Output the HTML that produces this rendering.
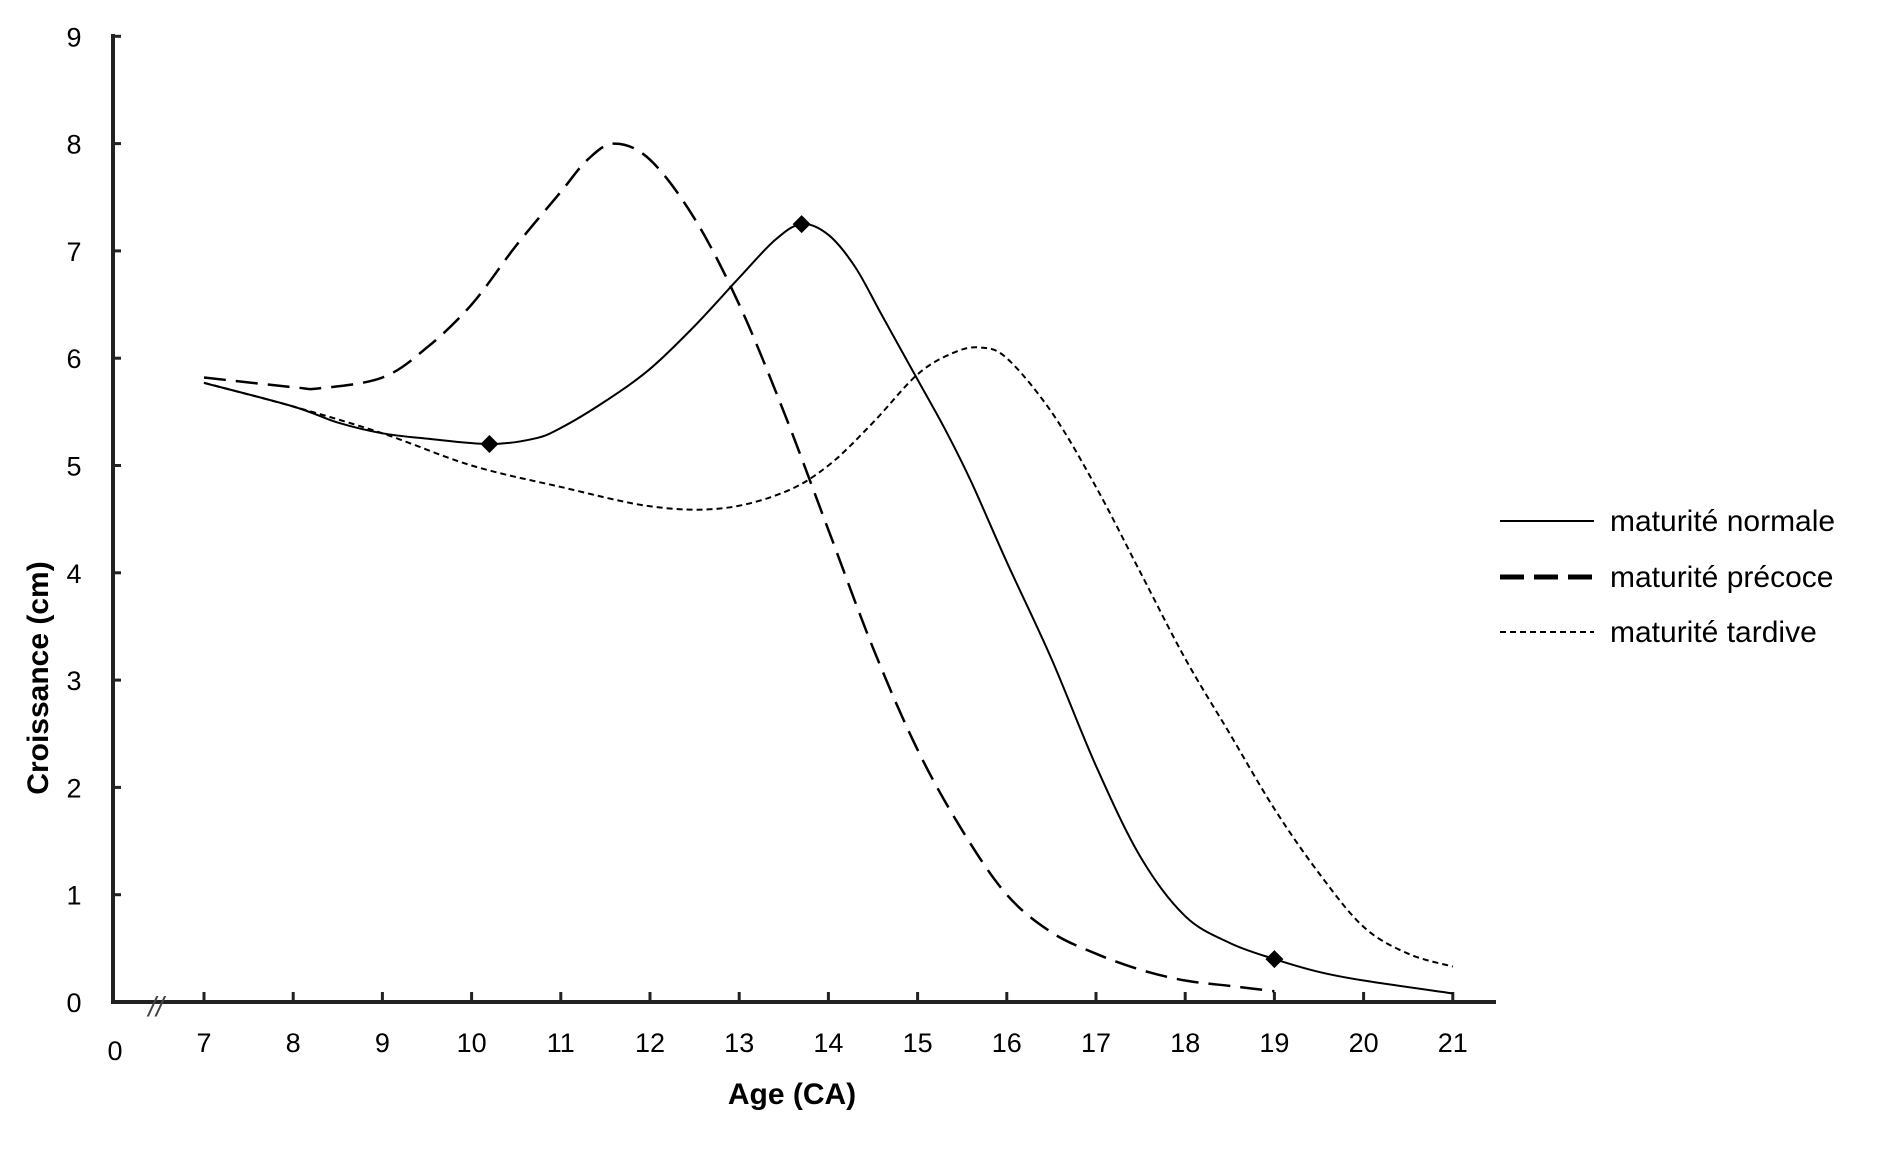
<!DOCTYPE html>
<html><head><meta charset="utf-8"><style>
html,body{margin:0;padding:0;background:#fff;}
svg{display:block;font-family:"Liberation Sans",Arial,sans-serif;}
</style></head><body>
<svg id="c" width="1882" height="1154" viewBox="0 0 1882 1154" xmlns="http://www.w3.org/2000/svg">
<rect width="1882" height="1154" fill="#fff"/>
<g id="axes" stroke="#222" stroke-width="4" fill="none">
<line x1="113" y1="34" x2="113" y2="1004"/>
<line x1="111" y1="1002" x2="1496" y2="1002"/>
</g>
<g id="ticks" stroke="#222" stroke-width="3"></g>
<g id="labels" font-size="27" fill="#000" text-anchor="middle"></g>
<text x="156" y="1016" font-size="28" font-style="italic" fill="#444" text-anchor="middle">//</text>
<text x="115" y="1060" font-size="27" text-anchor="middle">0</text>
<text x="792" y="1104" font-size="30" font-weight="bold" text-anchor="middle">Age (CA)</text>
<text transform="translate(48,678) rotate(-90)" font-size="30" font-weight="bold" text-anchor="middle">Croissance (cm)</text>
<g id="series" fill="none" stroke="#000"></g>
<g id="marks" fill="#000"></g>
<g font-size="30">
<line x1="1500" y1="521" x2="1594" y2="521" stroke="#000" stroke-width="2"/>
<text x="1610" y="531">maturité normale</text>
<line x1="1500" y1="577" x2="1594" y2="577" stroke="#000" stroke-width="5" stroke-dasharray="24,10"/>
<text x="1610" y="587">maturité précoce</text>
<line x1="1500" y1="632" x2="1594" y2="632" stroke="#000" stroke-width="2" stroke-dasharray="6,4"/>
<text x="1610" y="642">maturité tardive</text>
</g>
</svg>
<script>
var NS="http://www.w3.org/2000/svg";
function X(a){return 204+(a-7)*89.2;}
function Y(v){return 1002-v*107.3;}
function el(p,t,at,txt){var e=document.createElementNS(NS,t);for(var k in at)e.setAttribute(k,at[k]);if(txt!==undefined)e.textContent=txt;document.getElementById(p).appendChild(e);}
for(var v=1;v<=9;v++){el("ticks","line",{x1:113,y1:Y(v),x2:121,y2:Y(v)});}
for(var v=0;v<=9;v++){el("labels","text",{x:74,y:Y(v)+10},String(v));}
for(var a=7;a<=21;a++){el("ticks","line",{x1:X(a),y1:992,x2:X(a),y2:1002});el("labels","text",{x:X(a),y:1052},String(a));}
function path(pts){var P=pts.map(function(p){return [X(p[0]),Y(p[1])];});var d="M"+P[0][0]+","+P[0][1];
for(var i=0;i<P.length-1;i++){var p0=P[Math.max(0,i-1)],p1=P[i],p2=P[i+1],p3=P[Math.min(P.length-1,i+2)];
d+=" C"+(p1[0]+(p2[0]-p0[0])/6)+","+(p1[1]+(p2[1]-p0[1])/6)+" "+(p2[0]-(p3[0]-p1[0])/6)+","+(p2[1]-(p3[1]-p1[1])/6)+" "+p2[0]+","+p2[1];}return d;}
var normal=[[7,5.77],[8,5.55],[8.5,5.4],[9,5.3],[9.5,5.25],[10.2,5.2],[10.7,5.25],[11,5.35],[11.5,5.6],[12,5.9],[12.5,6.3],[13,6.75],[13.4,7.1],[13.7,7.25],[14,7.15],[14.3,6.85],[14.6,6.4],[15,5.8],[15.3,5.35],[15.6,4.85],[16,4.1],[16.5,3.2],[17,2.2],[17.5,1.35],[18,0.8],[18.5,0.55],[19,0.4],[19.5,0.28],[20,0.2],[21,0.08]];
var prec=[[7,5.82],[8,5.73],[8.3,5.72],[9,5.82],[9.5,6.1],[10,6.5],[10.5,7.05],[11,7.55],[11.3,7.85],[11.6,8.0],[12,7.85],[12.5,7.3],[13,6.5],[13.5,5.5],[14,4.4],[14.5,3.3],[15,2.35],[15.5,1.6],[16,1.0],[16.5,0.65],[17,0.45],[17.5,0.3],[18,0.2],[18.5,0.15],[19,0.1]];
var tard=[[7,5.77],[8,5.55],[9,5.3],[10,5.0],[11,4.8],[12,4.62],[12.8,4.6],[13.5,4.75],[14,5.0],[14.5,5.4],[15,5.85],[15.4,6.05],[15.7,6.1],[16,6.0],[16.5,5.5],[17,4.8],[17.5,4.0],[18,3.2],[18.5,2.5],[19,1.8],[19.5,1.2],[20,0.7],[20.5,0.45],[21,0.33]];
el("series","path",{d:path(tard),"stroke-width":2,"stroke-dasharray":"6,4"});
el("series","path",{d:path(prec),"stroke-width":2.5,"stroke-dasharray":"22,10"});
el("series","path",{d:path(normal),"stroke-width":2});
[[10.2,5.2],[13.7,7.25],[19,0.4]].forEach(function(p){var x=X(p[0]),y=Y(p[1]);el("marks","polygon",{points:(x-9)+","+y+" "+x+","+(y-9)+" "+(x+9)+","+y+" "+x+","+(y+9)});});
</script>
</body></html>
